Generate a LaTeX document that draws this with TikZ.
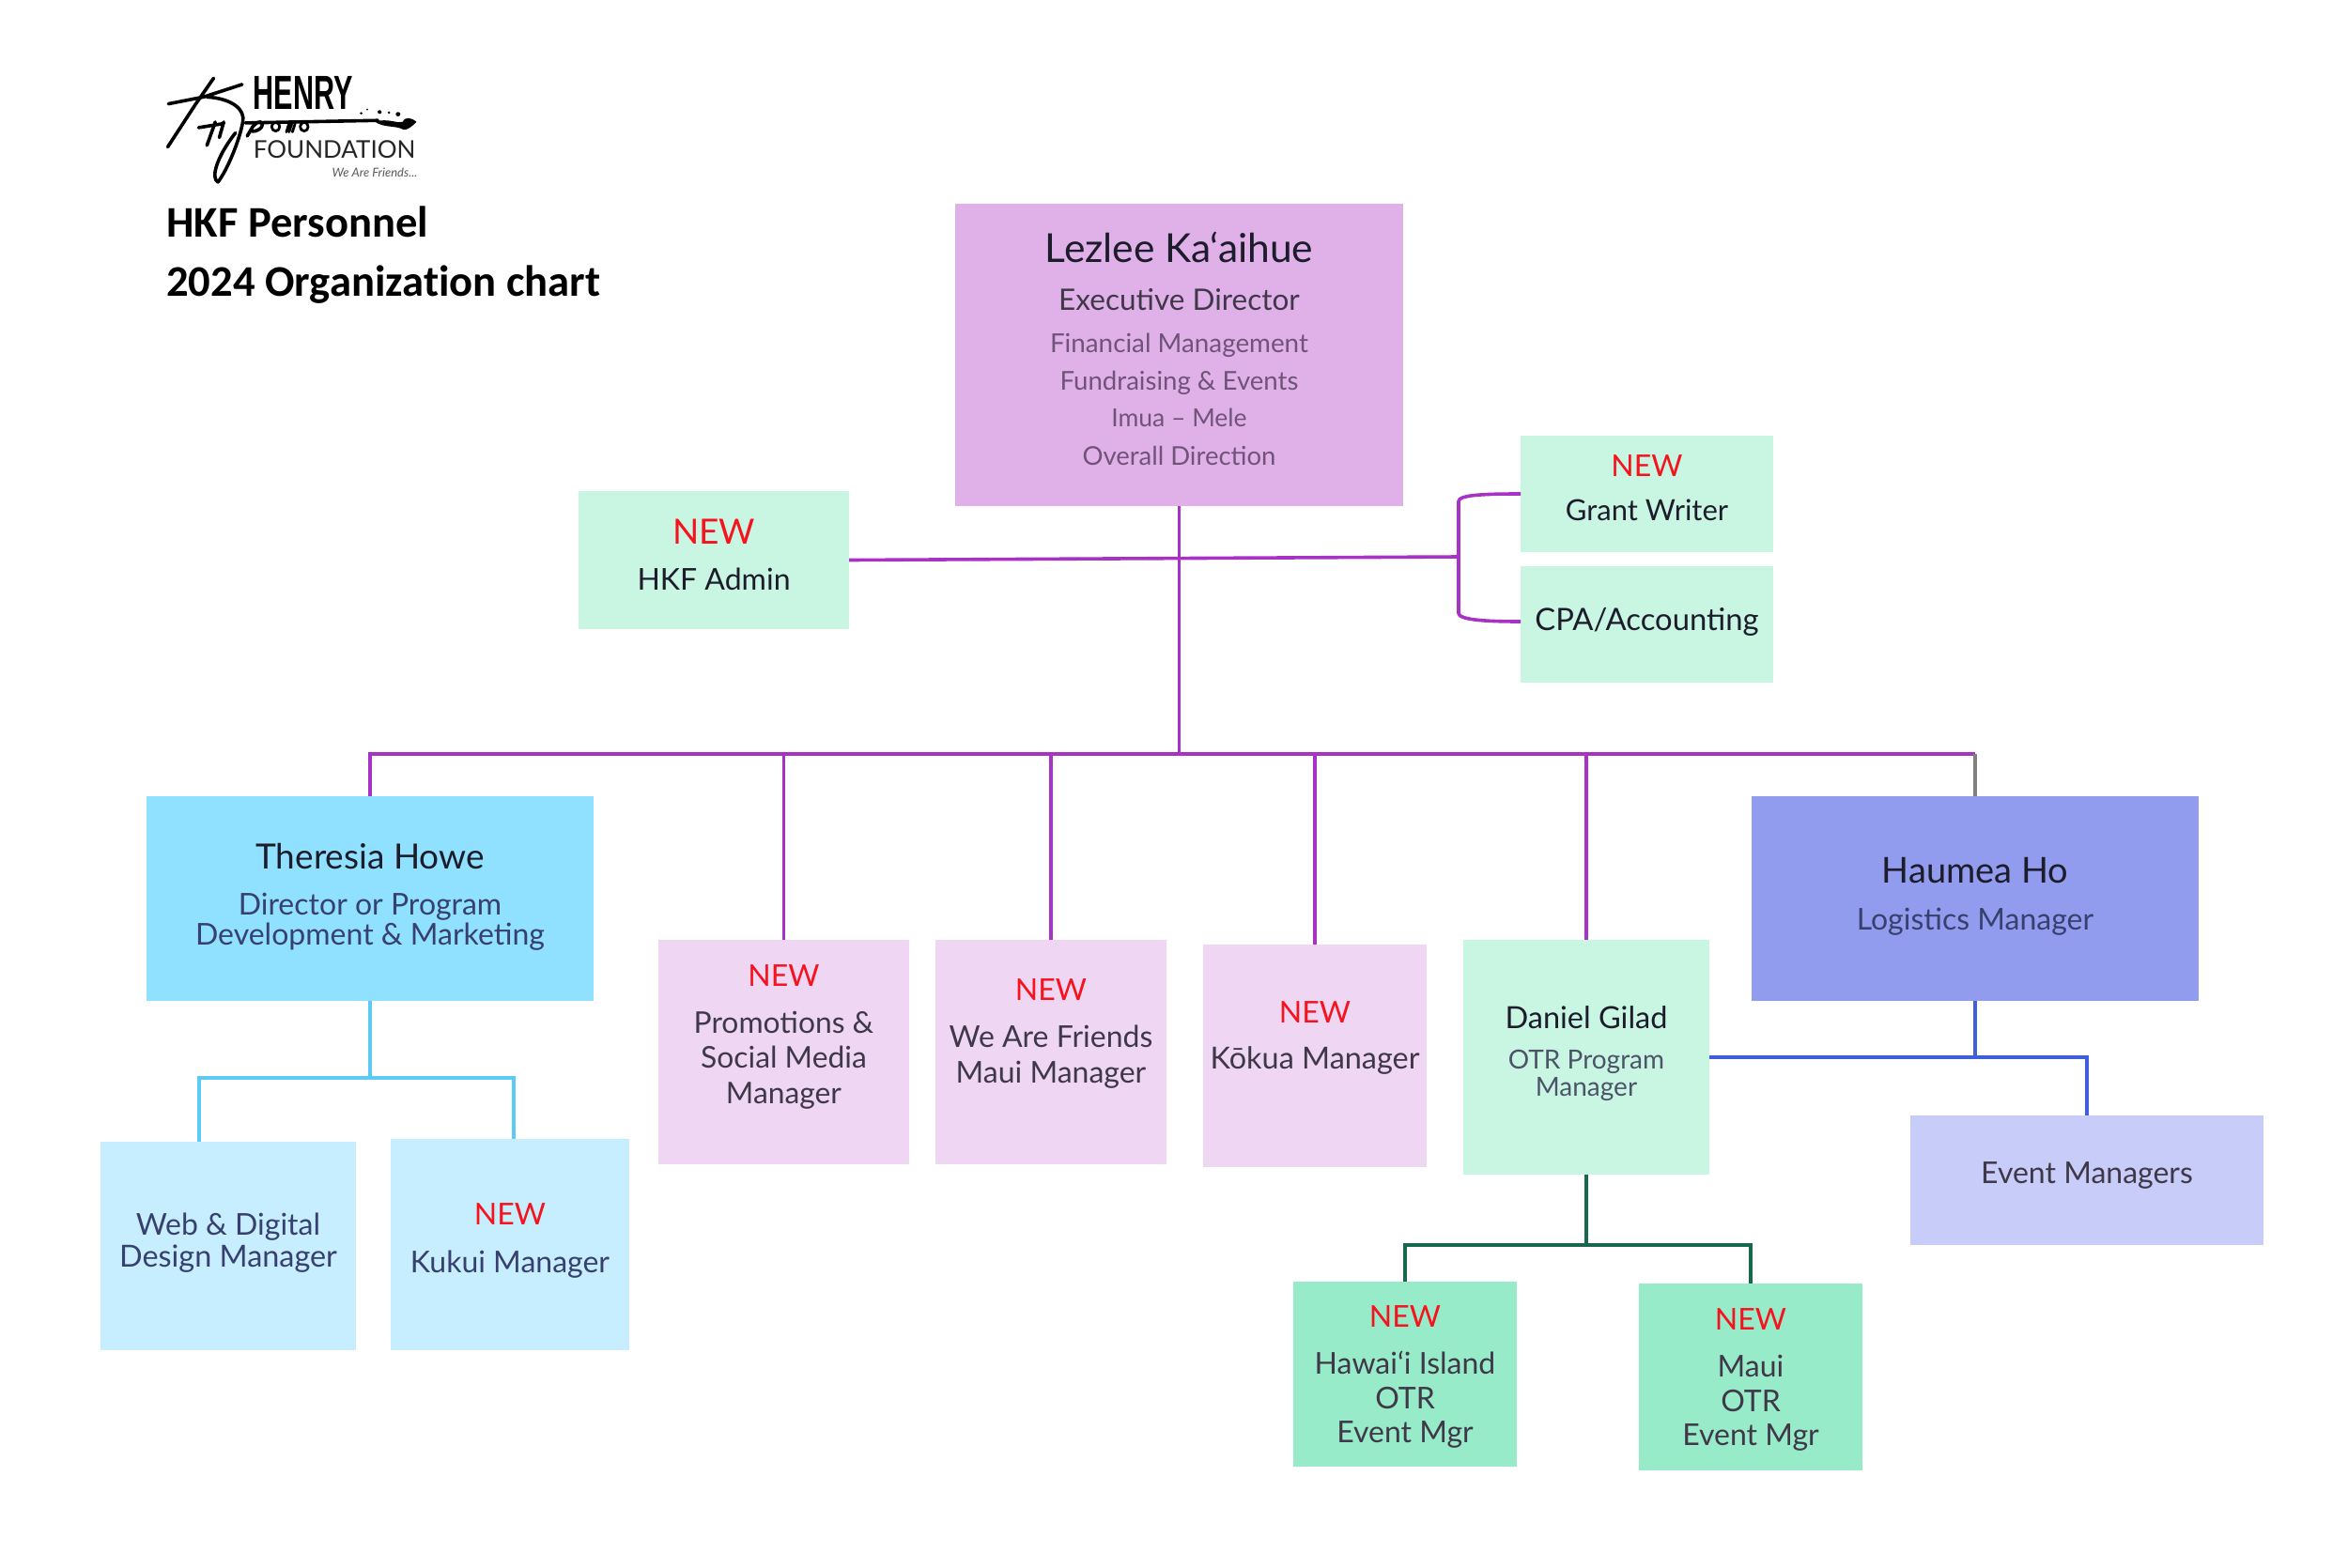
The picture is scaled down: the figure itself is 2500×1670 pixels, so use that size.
\documentclass[tikz,border=0pt]{standalone}
\usepackage{fontspec}
\usepackage{graphicx}
\setmainfont{Lato}
\newfontfamily\titlefont[Ligatures=NoCommon]{Carlito}
\newfontfamily\logofont[FakeStretch=0.6]{Liberation Sans}
\newfontfamily\logofoundfont{Lato}
\usetikzlibrary{calc}
\definecolor{cLez}{HTML}{E0B0E8}
\definecolor{cMint}{HTML}{C9F5E3}
\definecolor{cSky}{HTML}{90E0FF}
\definecolor{cSkyL}{HTML}{C6EEFF}
\definecolor{cHau}{HTML}{919CEF}
\definecolor{cHauL}{HTML}{C7CDF8}
\definecolor{cPink}{HTML}{EFD7F4}
\definecolor{cGrn}{HTML}{98EBC9}
\definecolor{cLinePur}{HTML}{A832C6}
\definecolor{cLineSky}{HTML}{5CCBF3}
\definecolor{cLineBlu}{HTML}{3F5EDC}
\definecolor{cLineGrn}{HTML}{17684E}
\definecolor{cNew}{HTML}{F5141E}
\definecolor{tDark}{HTML}{1C1C2A}
\definecolor{tMid}{HTML}{3F3848}
\definecolor{tPur}{HTML}{6F5478}
\definecolor{tBlu}{HTML}{37406E}
\definecolor{tGrey}{HTML}{4C5468}
% one row: gap from previous baseline, font size, colour, text
\newcommand{\rw}[4]{\rule{0pt}{#1pt}\smash{\fontsize{#2}{#2}\selectfont\color{#3}#4}}
% stack of rows whose first baseline lies #1 above the centre of the node
\newcommand{\stk}[2]{\raisebox{#1pt}[0pt][0pt]{\renewcommand{\arraystretch}{0}\begin{tabular}[t]{@{}c@{}}#2\end{tabular}}}
\tikzset{
  box/.style={rectangle,draw=none,inner sep=0pt,anchor=center},
  pline/.style={draw=cLinePur,line width=3.6pt},
  skyline/.style={draw=cLineSky,line width=3.2pt},
  bluline/.style={draw=cLineBlu,line width=3.6pt},
  grnline/.style={draw=cLineGrn,line width=3.4pt},
  greyline/.style={draw=black!50,line width=3.6pt},
  logostroke/.style={draw=black,line width=3.6pt,line cap=round,line join=round},
  logotext/.style={inner sep=0pt,anchor=base west,text=black}
}
% name, x1, y1, x2, y2, colour, contents
\newcommand{\bx}[7]{\node[box,fill=#6,minimum width={(#4-#2)*1pt},minimum height={(#5-#3)*1pt}] (#1) at ({(#2+#4)/2},{(#3+#5)/2}) {#7};}
\begin{document}
\begin{tikzpicture}[x=1pt,y=-1pt]
\useasboundingbox (0,0) rectangle (2500,1670);
\fill[white] (0,0) rectangle (2500,1670);

% logo
\begin{scope}[shift={(140,50)},x=0.357pt,y=-0.333pt]
  \draw[logostroke] (110,182) -- (215,160) -- (330,120);
  \draw[logostroke] (245,100) -- (190,185) -- (108,320);
  \draw[logostroke] (225,160) .. controls (300,165) and (340,200) .. (332,240)
     .. controls (322,300) and (285,395) .. (258,432)
     .. controls (235,420) and (255,350) .. (310,275);
  \draw[logostroke] (200,258) -- (275,245);
  \draw[logostroke] (250,240) -- (225,315);
  \draw[logostroke] (275,240) -- (262,290);
  \draw[logostroke] (345,285) .. controls (360,260) and (365,240) .. (385,240) .. controls (400,245) and (385,270) .. (360,270);
  \draw[logostroke,line width=2.8pt] (430,255) circle[x radius=12,y radius=14];
  \draw[logostroke,line width=2.8pt] (470,245) -- (462,272) (478,245) -- (470,272) (488,245) -- (480,272);
  \draw[logostroke,line width=2.8pt] (515,255) circle[x radius=12,y radius=14];
  \draw[logostroke] (340,243) -- (735,235);
  \fill[black] (725,238) .. controls (770,228) and (790,245) .. (808,240)
     .. controls (815,222) and (835,225) .. (850,240)
     .. controls (835,255) and (825,265) .. (812,265)
     .. controls (790,250) and (750,260) .. (725,238) -- cycle;
  \fill[black] (685,212) circle[radius=4] (703,200) circle[radius=3] (740,208) circle[radius=6]
     (768,210) circle[radius=4] (795,215) circle[radius=7];
  \node[logotext,font={\logofont\bfseries\fontsize{51}{51}\selectfont}] (logohenry) at (363,200) {HENRY};
  \node[logotext,font={\logofoundfont\fontsize{26}{26}\selectfont},text=black!85] (logofound) at (363,356) {FOUNDATION};
  \node[logotext,font={\logofoundfont\itshape\fontsize{13}{13}\selectfont},text=black!65] (logowe) at (598,416) {We Are Friends...};
\end{scope}

% title
\node[inner sep=0pt,anchor=west,text=black] (title) at (177,252)
  {\titlefont\bfseries\renewcommand{\arraystretch}{0}\raisebox{0pt}[0pt][0pt]{\begin{tabular}[t]{@{}l@{}}\rw{0}{46.6}{black}{HKF Personnel}\\\rw{63}{46.6}{black}{2024 Organization chart}\end{tabular}}};

% boxes
\bx{lezlee}{1017}{217}{1494}{539}{cLez}{\stk{99}{\rw{0}{42.5}{tDark}{Lezlee Ka‘aihue}\\\rw{51}{31.5}{tMid}{Executive Director}\\\rw{45}{27.8}{tPur}{Financial Management}\\\rw{40}{27.6}{tPur}{Fundraising \& Events}\\\rw{39}{26.5}{tPur}{Imua – Mele}\\\rw{41}{27.5}{tPur}{Overall Direction}}}
\bx{admin}{616}{523}{904}{670}{cMint}{\stk{17}{\rw{0}{37}{cNew}{NEW}\\\rw{49}{32}{tDark}{HKF Admin}}}
\bx{grant}{1619}{464}{1888}{588}{cMint}{\stk{19}{\rw{0}{32}{cNew}{NEW}\\\rw{47}{31}{tDark}{Grant Writer}}}
\bx{cpa}{1619}{603}{1888}{727}{cMint}{\stk{-6}{\rw{0}{32.8}{tDark}{CPA/Accounting}}}
\bx{theresia}{156}{848}{632}{1066}{cSky}{\stk{32}{\rw{0}{37}{tDark}{Theresia Howe}\\\rw{49}{32}{tBlu}{Director or Program}\\\rw{32}{32}{tBlu}{Development \& Marketing}}}
\bx{haumea}{1865}{848}{2341}{1066}{cHau}{\stk{17}{\rw{0}{38}{tDark}{Haumea Ho}\\\rw{50}{32}{tBlu}{Logistics Manager}}}
\bx{promo}{701}{1001}{968}{1240}{cPink}{\stk{70}{\rw{0}{32}{cNew}{NEW}\\\rw{50}{31.8}{tMid}{Promotions \&}\\\rw{37}{31.8}{tMid}{Social Media}\\\rw{38}{31.8}{tMid}{Manager}}}
\bx{friends}{996}{1001}{1242}{1240}{cPink}{\stk{55}{\rw{0}{32}{cNew}{NEW}\\\rw{50}{32}{tMid}{We Are Friends}\\\rw{38}{32}{tMid}{Maui Manager}}}
\bx{kokua}{1281}{1006}{1519}{1243}{cPink}{\stk{35}{\rw{0}{32}{cNew}{NEW}\\\rw{49}{32.4}{tMid}{Kōkua Manager}}}
\bx{daniel}{1558}{1001}{1820}{1251}{cMint}{\stk{31}{\rw{0}{32.5}{tDark}{Daniel Gilad}\\\rw{43}{28}{tGrey}{OTR Program}\\\rw{29}{28}{tGrey}{Manager}}}
\bx{eventm}{2034}{1188}{2410}{1326}{cHauL}{\stk{-3}{\rw{0}{32}{tMid}{Event Managers}}}
\bx{web}{107}{1216}{379}{1438}{cSkyL}{\stk{12}{\rw{0}{32}{tBlu}{Web \& Digital}\\\rw{34}{32.4}{tBlu}{Design Manager}}}
\bx{kukui}{416}{1213}{670}{1438}{cSkyL}{\stk{21}{\rw{0}{32}{cNew}{NEW}\\\rw{51}{32}{tBlu}{Kukui Manager}}}
\bx{hawaii}{1377}{1365}{1615}{1562}{cGrn}{\stk{50}{\rw{0}{32}{cNew}{NEW}\\\rw{50}{32}{tMid}{Hawai`i Island}\\\rw{37}{32}{tMid}{OTR}\\\rw{36}{32}{tMid}{Event Mgr}}}
\bx{maui}{1745}{1367}{1983}{1566}{cGrn}{\stk{50}{\rw{0}{32}{cNew}{NEW}\\\rw{50}{32}{tMid}{Maui}\\\rw{37}{32}{tMid}{OTR}\\\rw{36}{32}{tMid}{Event Mgr}}}

% junctions
\coordinate (busc) at (1255.5,803);
\coordinate (midj) at (1553,593);
\coordinate (skyj) at (394,1148);
\coordinate (webdrop) at (212,1216);
\coordinate (kukdrop) at (547,1213);
\coordinate (grnj) at (1689,1326);
\coordinate (bluj) at (2222,1126);
\coordinate (grantj) at (1619,526);
\coordinate (cpaj) at (1619,662);

% connectors
\draw[pline] (lezlee.south) -- (busc);
\draw[pline] (admin.east) -- (midj);
\draw[pline] (grantj) .. controls (1580,526) and (1553,527) .. (1553,534) -- (1553,653) .. controls (1553,660) and (1580,662) .. (cpaj);
\draw[pline] (theresia.north) |- (busc) -- (haumea.north |- busc);
\draw[greyline] (haumea.north |- busc) -- (haumea.north);
\draw[pline] (promo.north) -- (promo.north |- busc);
\draw[pline] (friends.north) -- (friends.north |- busc);
\draw[pline] (kokua.north) -- (kokua.north |- busc);
\draw[pline] (daniel.north) -- (daniel.north |- busc);

\draw[skyline] (theresia.south) -- (skyj);
\draw[skyline] (webdrop) |- (kukdrop |- skyj) -- (kukdrop);

\draw[bluline] (haumea.south) -- (haumea.south |- bluj);
\draw[bluline] (daniel.east) -- (bluj) -- (eventm.north);

\draw[grnline] (daniel.south) -- (grnj);
\draw[grnline] (hawaii.north) |- (maui.north |- grnj) -- (maui.north);
\end{tikzpicture}
\end{document}
